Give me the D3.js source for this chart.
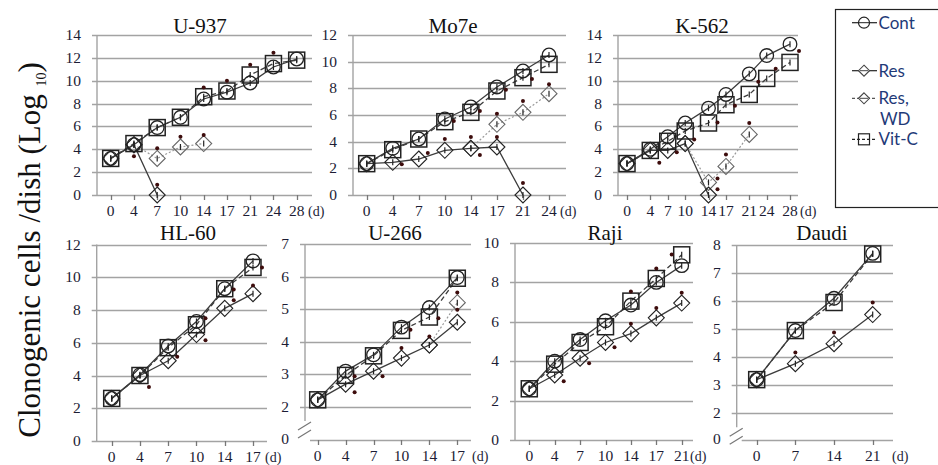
<!DOCTYPE html>
<html>
<head>
<meta charset="utf-8">
<script src="https://cdn.jsdelivr.net/npm/d3@7"></script>
<style>
  html, body { margin: 0; padding: 0; background: #fff; }
  svg { display: block; }
</style>
</head>
<body>
<svg id="chart" width="938" height="465"></svg>
<script>
// ---------------- DATA ----------------
const seriesNames = ["Cont", "Res", "Res, WD", "Vit-C"];

const u937Days  = [0, 4, 7, 10, 14, 17, 21, 24, 28];
const u937Cont  = [3.2, 4.4, 5.9, 6.8, 8.4, 9.0, 9.8, 11.2, 11.9];
const u937Res   = [3.2, 4.4, 0, null, null, null, null, null, null];
const u937ResWD = [null, 4.4, 3.2, 4.2, 4.5, null, null, null, null];
const u937VitC  = [3.2, 4.5, 5.9, 6.8, 8.6, 9.1, 10.5, 11.5, 11.8];
const u937YTicks = [0, 2, 4, 6, 8, 10, 12, 14];
const u937SigAbove = [[4, 3.4], [7, 4.1], [7, 0.9], [10, 5.1], [14, 5.25], [14, 9.4], [17, 10.0], [21, 11.4], [24, 12.45]];
const u937SigRight = [];

const mo7eDays  = [0, 4, 7, 10, 14, 17, 21, 24];
const mo7eCont  = [2.35, 3.5, 4.2, 5.7, 6.6, 8.1, 9.3, 10.5];
const mo7eRes   = [2.35, 2.45, 2.7, 3.35, 3.5, 3.6, 0, null];
const mo7eResWD = [null, null, null, null, 3.5, 5.3, 6.2, 7.6];
const mo7eVitC  = [2.35, 3.4, 4.2, 5.5, 6.2, 7.8, 8.8, 9.8];
const mo7eYTicks = [0, 2, 4, 6, 8, 10, 12];
const mo7eSigAbove = [[10, 4.2], [14, 4.35], [17, 4.35], [17, 6.1], [21, 7.05], [21, 0.9], [24, 8.3]];
const mo7eSigRight = [[4, 2.3], [7, 3.15], [10, 5.55], [14, 3.0], [14, 6.3], [17, 7.9], [21, 8.7]];

const k562Days  = [0, 4, 7, 10, 14, 17, 21, 24, 28];
const k562Cont  = [2.75, 4.0, 5.1, 6.3, 7.6, 8.8, 10.6, 12.2, 13.2];
const k562Res   = [2.75, 3.9, 3.9, 4.5, 0, null, null, null, null];
const k562ResWD = [null, null, null, 4.5, 1.1, 2.5, 5.3, null, null];
const k562VitC  = [2.75, 3.9, 4.7, 5.6, 6.3, 7.9, 8.8, 10.2, 11.6];
const k562YTicks = [0, 2, 4, 6, 8, 10, 12, 14];
const k562SigAbove = [[17, 3.55], [21, 6.3]];
const k562SigRight = [[4, 2.83], [7, 3.75], [10, 4.85], [14, 6.35], [14, 1.45], [14, 0.5], [17, 7.8], [21, 9.9], [24, 11.05], [28, 12.6]];

const hl60Days  = [0, 4, 7, 10, 14, 17];
const hl60Cont  = [2.6, 4.05, 5.8, 7.3, 9.3, 11.0];
const hl60Res   = [2.6, 4.0, 4.9, 6.5, 8.1, 9.0];
const hl60VitC  = [2.6, 4.0, 5.7, 7.1, 9.3, 10.6];
const hl60YTicks = [0, 2, 4, 6, 8, 10, 12];
const hl60SigAbove = [[17, 9.5]];
const hl60SigRight = [[4, 3.3], [7, 5.15], [10, 6.15], [10, 7.5], [14, 8.6], [14, 9.25], [17, 10.6]];

const u266Days  = [0, 4, 7, 10, 14, 17];
const u266Cont  = [2.22, 3.1, 3.6, 4.45, 5.05, 5.97];
const u266Res   = [2.22, 2.7, 3.1, 3.5, 3.9, 4.6];
const u266ResWD = [null, null, null, null, 3.9, 5.2];
const u266VitC  = [2.22, 2.97, 3.57, 4.35, 4.76, 5.95];
const u266YTicks = [0, 2, 3, 4, 5, 6, 7];
const u266SigAbove = [[10, 3.81], [14, 4.16], [17, 5.51], [17, 4.98]];
const u266SigRight = [[4, 2.45], [4, 2.94], [7, 2.94], [10, 4.37], [14, 4.72]];

const rajiDays  = [0, 4, 7, 10, 14, 17, 21];
const rajiCont  = [2.6, 4.0, 5.1, 6.05, 6.85, 8.0, 8.85];
const rajiRes   = [2.6, 3.3, 4.15, 4.95, 5.4, 6.2, 6.95];
const rajiVitC  = [2.6, 3.85, 4.95, 5.75, 7.05, 8.2, 9.4];
const rajiYTicks = [0, 2, 4, 6, 8, 10];
const rajiSigAbove = [[14, 5.9], [14, 7.54], [17, 6.7], [17, 8.7], [21, 7.47]];
const rajiSigRight = [[4, 2.98], [7, 3.9], [10, 4.71]];
const rajiSigLeft  = [[21, 9.42]];

const daudiDays = [0, 7, 14, 21];
const daudiCont = [3.2, 4.95, 6.1, 7.7];
const daudiRes  = [3.2, 3.77, 4.48, 5.52];
const daudiVitC = [3.2, 4.95, 5.95, 7.68];
const daudiYTicks = [0, 2, 3, 4, 5, 6, 7, 8];
const daudiSigAbove = [[7, 4.17], [14, 4.88], [21, 5.95]];
const daudiSigRight = [];

// ---------------- LAYOUT ----------------
const svg = d3.select("#chart");
const SERIF = "'Liberation Serif', 'Times New Roman', Times, serif";
const LABEL_COLOR = "#1c1c34";
const GRID = "#a3a3a3";

const panels = [
  { title: "U-937", days: u937Days, series: [u937Cont, u937Res, u937ResWD, u937VitC], yTicks: u937YTicks,
    sigAbove: u937SigAbove, sigRight: u937SigRight, sigLeft: [],
    axisX: 97, gridEnd: 312, x0: 110.7, x1: 296.7, top: 35, bottom: 195, yDomain: [0, 14], xType: "point",
    titleX: 200, titleY: 33, dX: 308 },
  { title: "Mo7e", days: mo7eDays, series: [mo7eCont, mo7eRes, mo7eResWD, mo7eVitC], yTicks: mo7eYTicks,
    sigAbove: mo7eSigAbove, sigRight: mo7eSigRight, sigLeft: [],
    axisX: 353, gridEnd: 566, x0: 366.7, x1: 549, top: 35, bottom: 195, yDomain: [0, 12], xType: "point",
    titleX: 453, titleY: 33, dX: 560 },
  { title: "K-562", days: k562Days, series: [k562Cont, k562Res, k562ResWD, k562VitC], yTicks: k562YTicks,
    sigAbove: k562SigAbove, sigRight: k562SigRight, sigLeft: [],
    axisX: 618, gridEnd: 798, x0: 627, x1: 790, top: 35, bottom: 195, yDomain: [0, 14], xType: "linear",
    titleX: 702, titleY: 33, dX: 800 },
  { title: "HL-60", days: hl60Days, series: [hl60Cont, hl60Res, null, hl60VitC], yTicks: hl60YTicks,
    sigAbove: hl60SigAbove, sigRight: hl60SigRight, sigLeft: [],
    axisX: 96.7, gridEnd: 267, x0: 111.7, x1: 253, top: 244.5, bottom: 441, yDomain: [0, 12], xType: "point",
    titleX: 188, titleY: 240, dX: 265 },
  { title: "U-266", days: u266Days, series: [u266Cont, u266Res, u266ResWD, u266VitC], yTicks: u266YTicks,
    sigAbove: u266SigAbove, sigRight: u266SigRight, sigLeft: [],
    axisX: 305, gridEnd: 471, x0: 317.7, x1: 457.3, top: 244, bottom: 440, brokenLow: 2, brokenPx: 407,
    yDomain: [0, 7], xType: "point", titleX: 395, titleY: 240, dX: 472 },
  { title: "Raji", days: rajiDays, series: [rajiCont, rajiRes, null, rajiVitC], yTicks: rajiYTicks,
    sigAbove: rajiSigAbove, sigRight: rajiSigRight, sigLeft: rajiSigLeft,
    axisX: 515, gridEnd: 693, x0: 529.3, x1: 681.7, top: 243, bottom: 440, yDomain: [0, 10], xType: "point",
    titleX: 605, titleY: 240, dX: 690 },
  { title: "Daudi", days: daudiDays, series: [daudiCont, daudiRes, null, daudiVitC], yTicks: daudiYTicks,
    sigAbove: daudiSigAbove, sigRight: daudiSigRight, sigLeft: [],
    axisX: 736.7, gridEnd: 893, x0: 756.7, x1: 872.7, top: 245, bottom: 440, brokenLow: 2, brokenPx: 413.3,
    yDomain: [0, 8], xType: "point", titleX: 822, titleY: 240, dX: 892 }
];

const styles = [
  { dash: null,    color: "#3c3c3c", width: 1.3, marker: "circle" },
  { dash: null,    color: "#3c3c3c", width: 1.3, marker: "diamond" },
  { dash: "2,2",   color: "#9a9a9a", width: 1.2, marker: "diamond" },
  { dash: "5,3",   color: "#3c3c3c", width: 1.3, marker: "square" }
];

function drawMarker(g, type, x, y, stroke) {
  if (type === "circle") {
    g.append("circle").attr("cx", x).attr("cy", y).attr("r", 6.8)
      .attr("fill", "none").attr("stroke", stroke).attr("stroke-width", 1.3);
  } else if (type === "square") {
    g.append("rect").attr("x", x - 8).attr("y", y - 8).attr("width", 16).attr("height", 16)
      .attr("fill", "none").attr("stroke", stroke).attr("stroke-width", 1.5);
  } else {
    const s = 8;
    g.append("path").attr("d", `M${x},${y - s}L${x + s},${y}L${x},${y + s}L${x - s},${y}Z`)
      .attr("fill", "none").attr("stroke", stroke).attr("stroke-width", 1.1);
  }
  // small error bar inside marker
  g.append("line").attr("x1", x).attr("x2", x).attr("y1", y - 3).attr("y2", y + 3)
    .attr("stroke", "#222").attr("stroke-width", 1.2);
}

panels.forEach(p => {
  const g = svg.append("g");
  let y;
  if (p.brokenLow != null) {
    y = d3.scaleLinear().domain([0, p.brokenLow, p.yDomain[1]]).range([p.bottom - 1, p.brokenPx, p.top]);
  } else {
    y = d3.scaleLinear().domain(p.yDomain).range([p.bottom, p.top]);
  }
  let x;
  if (p.xType === "linear") {
    x = d3.scaleLinear().domain([p.days[0], p.days[p.days.length - 1]]).range([p.x0, p.x1]);
  } else {
    x = d3.scalePoint().domain(p.days).range([p.x0, p.x1]);
  }

  // gridlines + y ticks
  p.yTicks.forEach(t => {
    const yy = Math.round(y(t)) + 0.5;
    const isZero = t === 0;
    if (!(isZero && p.brokenLow != null)) {
      g.append("line").attr("x1", p.axisX - 5).attr("x2", p.gridEnd)
        .attr("y1", yy).attr("y2", yy).attr("stroke", GRID).attr("stroke-width", 1.4);
    }
    g.append("text").attr("x", p.axisX - 16).attr("y", y(t) + 5)
      .attr("text-anchor", "end").attr("font-family", SERIF).attr("font-size", 15.5)
      .attr("fill", LABEL_COLOR).text(t);
  });

  // axes
  if (p.brokenLow != null) {
    const breakTop = y(p.brokenLow) + 14;
    g.append("line").attr("x1", p.axisX).attr("x2", p.axisX).attr("y1", p.top).attr("y2", breakTop)
      .attr("stroke", GRID).attr("stroke-width", 1.4);
    g.append("line").attr("x1", p.axisX + 5).attr("x2", p.gridEnd)
      .attr("y1", p.bottom + 0.5).attr("y2", p.bottom + 0.5).attr("stroke", GRID).attr("stroke-width", 1.4);
    [[breakTop + 9, breakTop + 1], [breakTop + 17, breakTop + 9]].forEach(([a, b]) => {
      g.append("line").attr("x1", p.axisX - 7).attr("x2", p.axisX + 6)
        .attr("y1", a).attr("y2", b).attr("stroke", "#777").attr("stroke-width", 1.2);
    });
  } else {
    g.append("line").attr("x1", p.axisX).attr("x2", p.axisX).attr("y1", p.top).attr("y2", p.bottom)
      .attr("stroke", GRID).attr("stroke-width", 1.4);
  }

  // x ticks and labels
  p.days.forEach(dd => {
    const xx = Math.round(x(dd)) + 0.5;
    g.append("line").attr("x1", xx).attr("x2", xx).attr("y1", p.bottom).attr("y2", p.bottom + 5)
      .attr("stroke", "#777").attr("stroke-width", 1.3);
    g.append("text").attr("x", x(dd)).attr("y", p.bottom + 21)
      .attr("text-anchor", "middle").attr("font-family", SERIF).attr("font-size", 15.5)
      .attr("fill", LABEL_COLOR).text(dd);
  });
  g.append("text").attr("x", p.dX).attr("y", p.bottom + 21)
    .attr("font-family", SERIF).attr("font-size", 14).attr("fill", LABEL_COLOR).text("(d)");

  // title
  g.append("text").attr("x", p.titleX).attr("y", p.titleY).attr("text-anchor", "middle")
    .attr("font-family", SERIF).attr("font-size", 21).attr("fill", "#111").text(p.title);

  // lines
  const order = [2, 1, 3, 0];
  order.forEach(si => {
    const vals = p.series[si];
    if (!vals) return;
    const pts = p.days.map((dd, i) => ({ d: dd, v: vals[i] }));
    const st = styles[si];
    const line = d3.line().defined(d => d.v != null).x(d => x(d.d)).y(d => y(d.v));
    g.append("path").attr("d", line(pts)).attr("fill", "none")
      .attr("stroke", st.color).attr("stroke-width", st.width)
      .attr("stroke-dasharray", st.dash);
  });
  order.forEach(si => {
    const vals = p.series[si];
    if (!vals) return;
    const st = styles[si];
    p.days.forEach((dd, i) => {
      if (vals[i] == null) return;
      drawMarker(g, st.marker, x(dd), y(vals[i]), si === 2 ? "#666" : "#222");
    });
  });

  // significance dots
  const dot = (list, dx) => list.forEach(([dd, v]) => {
    g.append("circle").attr("cx", x(dd) + dx).attr("cy", y(v)).attr("r", 2)
      .attr("fill", "#3d0c0c");
  });
  dot(p.sigAbove, 0);
  dot(p.sigRight, 9);
  dot(p.sigLeft, -10);
});

// ---------------- Y LABEL ----------------
const yl = svg.append("text")
  .attr("transform", "translate(40,250) rotate(-90)")
  .attr("text-anchor", "middle")
  .attr("font-family", SERIF).attr("font-size", 31).attr("fill", "#111");
yl.append("tspan").text("Clonogenic cells /dish (Log ");
yl.append("tspan").attr("font-size", 14).attr("dy", 6).text("10");
yl.append("tspan").attr("dy", -6).text(")");

// ---------------- LEGEND ----------------
const lg = svg.append("g");
lg.append("rect").attr("x", 835.5).attr("y", 9.5).attr("width", 120).attr("height", 198)
  .attr("fill", "#fff").attr("stroke", "#222").attr("stroke-width", 1.2);
const legendY = [22.7, 70.7, 98.3, 139.3];
const LEG_FONT = "Lato, 'Open Sans', sans-serif";
seriesNames.forEach((name, i) => {
  const st = styles[i];
  const yy = legendY[i];
  lg.append("line").attr("x1", 852).attr("x2", 877).attr("y1", yy).attr("y2", yy)
    .attr("stroke", i === 2 ? "#555" : "#222").attr("stroke-width", 1.2)
    .attr("stroke-dasharray", i >= 2 ? "3,2" : null);
  if (st.marker === "circle") {
    lg.append("circle").attr("cx", 864).attr("cy", yy).attr("r", 5.5)
      .attr("fill", "#fff").attr("stroke", "#222").attr("stroke-width", 1.2);
    lg.append("line").attr("x1", 858).attr("x2", 870).attr("y1", yy).attr("y2", yy).attr("stroke", "#222");
  } else if (st.marker === "square") {
    lg.append("rect").attr("x", 858.5).attr("y", yy - 5.5).attr("width", 11).attr("height", 11)
      .attr("fill", "none").attr("stroke", "#222").attr("stroke-width", 1.2);
  } else {
    const s = 5.5;
    lg.append("path").attr("d", `M864,${yy - s}L${864 + s},${yy}L864,${yy + s}L${864 - s},${yy}Z`)
      .attr("fill", "#fff").attr("stroke", "#444").attr("stroke-width", 1.1);
    lg.append("line").attr("x1", 860).attr("x2", 868).attr("y1", yy).attr("y2", yy).attr("stroke", "#444");
  }
  if (name === "Res, WD") {
    lg.append("text").attr("x", 878.5).attr("y", yy + 6).attr("font-family", LEG_FONT)
      .attr("font-size", 17).attr("fill", "#1f3a78").text("Res,");
    lg.append("text").attr("x", 880).attr("y", 119.3 + 6).attr("font-family", LEG_FONT)
      .attr("font-size", 17).attr("fill", "#1f3a78").text("WD");
  } else {
    lg.append("text").attr("x", 878.5).attr("y", yy + 6).attr("font-family", LEG_FONT)
      .attr("font-size", 17).attr("fill", "#1f3a78").text(name);
  }
});
</script>
</body>
</html>
